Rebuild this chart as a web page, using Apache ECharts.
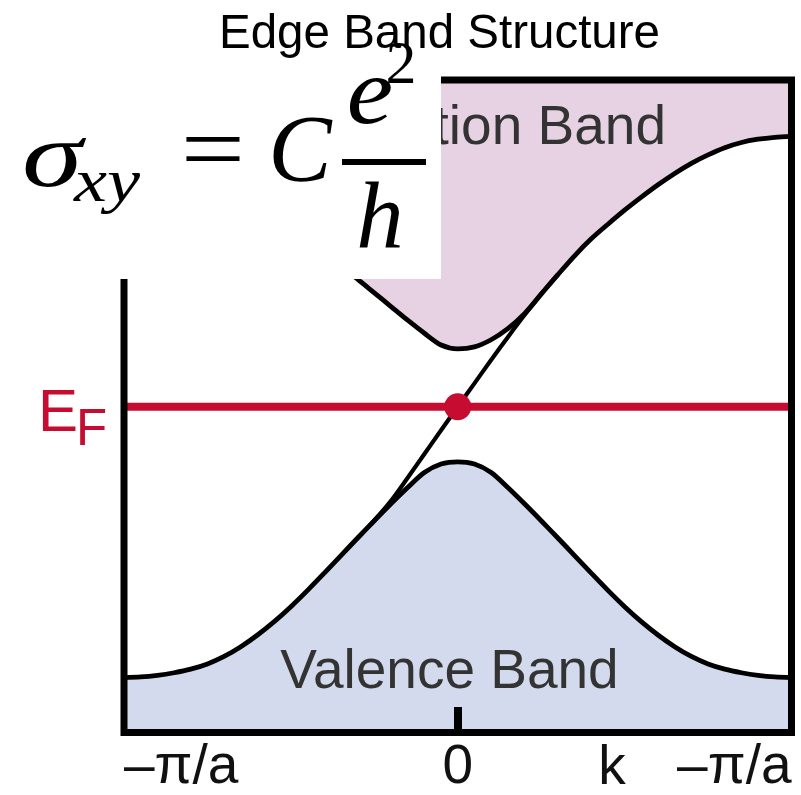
<!DOCTYPE html>
<html>
<head>
<meta charset="utf-8">
<script src="https://cdn.jsdelivr.net/npm/echarts@6/dist/echarts.min.js"></script>
<style>
  html, body { margin: 0; padding: 0; background: #ffffff; }
  #chart { width: 801px; height: 795px; }
</style>
</head>
<body>
<div id="chart"></div>
<script>
// Crystal momentum k in units of pi/a
const kValues = [
  -1, -0.95, -0.9, -0.85, -0.8, -0.75, -0.7, -0.65, -0.6, -0.55, -0.5,
  -0.45, -0.4, -0.35, -0.3, -0.25, -0.2, -0.15, -0.1, -0.05, 0,
  0.05, 0.1, 0.15, 0.2, 0.25, 0.3, 0.35, 0.4, 0.45, 0.5,
  0.55, 0.6, 0.65, 0.7, 0.75, 0.8, 0.85, 0.9, 0.95, 1
];
// Bottom edge of the bulk conduction band
const conductionBand = [
  4.135, 4.125, 4.10, 4.05, 3.97, 3.86, 3.72, 3.55, 3.35, 3.13, 2.90,
  2.65, 2.40, 2.16, 1.94, 1.73, 1.52, 1.31, 1.11, 0.93, 0.87,
  0.90, 1.01, 1.18, 1.41, 1.71, 2.01, 2.30, 2.56, 2.785, 3.00,
  3.20, 3.39, 3.565, 3.72, 3.85, 3.96, 4.04, 4.09, 4.12, 4.135
];
// Top edge of the bulk valence band
const valenceBand = [
  -4.18, -4.17, -4.145, -4.105, -4.05, -3.97, -3.855, -3.705, -3.525, -3.32, -3.09,
  -2.84, -2.575, -2.305, -2.035, -1.77, -1.51, -1.26, -1.03, -0.90, -0.865,
  -0.90, -1.03, -1.26, -1.51, -1.77, -2.035, -2.305, -2.575, -2.84, -3.09,
  -3.32, -3.525, -3.705, -3.855, -3.97, -4.05, -4.105, -4.145, -4.17, -4.18
];
// Chiral edge state crossing the gap
const edgeK = [-0.3, -0.25, -0.2, -0.15, -0.1, -0.05, 0, 0.05, 0.1, 0.15, 0.2, 0.25, 0.3];
const edgeState = [-2.035, -1.765, -1.465, -1.11, -0.745, -0.38, -0.02, 0.34, 0.70, 1.05, 1.39, 1.715, 2.01];
// Fermi level
const fermiLevel = -0.02;
const kRange = [-1, 1];
const tickLabels = { '-1': '–π/a', '0': '0', '1': '–π/a' };

const toPairs = (xs, ys) => xs.map((x, i) => [x, ys[i]]);

const RED = '#C60C30';
const SANS = '"Liberation Sans", Arial, sans-serif';
const SERIF = '"Liberation Serif", "Times New Roman", serif';

const chart = echarts.init(document.getElementById('chart'), null, { renderer: 'canvas' });

chart.setOption({
  animation: false,
  backgroundColor: '#ffffff',
  title: {
    text: 'Edge Band Structure',
    left: 219,
    top: 11,
    padding: 0,
    textStyle: { fontFamily: SANS, fontSize: 47.5, fontWeight: 'normal', color: '#000' }
  },
  grid: { left: 124, right: 9.5, top: 80, bottom: 62.5, show: false },
  xAxis: {
    type: 'value',
    min: kRange[0],
    max: kRange[1],
    interval: 1,
    z: 5,
    axisLine: { show: false, onZero: false },
    splitLine: { show: false },
    axisTick: {
      show: true,
      inside: true,
      length: 24,
      customValues: [0],
      lineStyle: { color: '#000', width: 8 }
    },
    axisLabel: {
      margin: 9,
      fontFamily: SANS,
      fontSize: 55,
      color: '#111',
      alignMinLabel: 'left',
      alignMaxLabel: 'right',
      formatter: (v) => tickLabels[String(v)] || ''
    }
  },
  yAxis: {
    type: 'value',
    min: -5,
    max: 5,
    show: false
  },
  series: [
    {
      name: 'Conduction Band',
      type: 'line',
      data: toPairs(kValues, conductionBand),
      showSymbol: false,
      smooth: 0.3,
      lineStyle: { color: '#000', width: 4.8 },
      areaStyle: { color: '#E7D2E3', opacity: 1, origin: 'end' },
      z: 2
    },
    {
      name: 'Valence Band',
      type: 'line',
      data: toPairs(kValues, valenceBand),
      showSymbol: false,
      smooth: 0.3,
      lineStyle: { color: '#000', width: 4.8 },
      areaStyle: { color: '#D4DAED', opacity: 1, origin: 'start' },
      z: 2
    },
    {
      name: 'Edge State',
      type: 'line',
      data: toPairs(edgeK, edgeState),
      showSymbol: false,
      smooth: 0.3,
      lineStyle: { color: '#000', width: 4.2 },
      z: 3
    },
    {
      name: 'Fermi Level',
      type: 'line',
      data: toPairs(kRange, [fermiLevel, fermiLevel]),
      showSymbol: false,
      lineStyle: { color: RED, width: 8 },
      z: 4
    },
    {
      name: 'Crossing',
      type: 'scatter',
      data: [[0, fermiLevel]],
      symbolSize: 27,
      itemStyle: { color: RED, opacity: 1 },
      z: 4
    }
  ],
  graphic: [
    // plot frame
    {
      type: 'rect', z: 10, silent: true,
      shape: { x: 124, y: 80, width: 667.5, height: 652.5 },
      style: { fill: 'none', stroke: '#000', lineWidth: 7 }
    },
    // band names
    {
      type: 'text', z: 8, silent: true, x: 455, y: 129,
      style: { text: 'Conduction Band', font: '55px ' + SANS, fill: '#333', align: 'center', verticalAlign: 'middle' }
    },
    {
      type: 'text', z: 8, silent: true, x: 449.5, y: 672.6,
      style: { text: 'Valence Band', font: '55px ' + SANS, fill: '#333', align: 'center', verticalAlign: 'middle' }
    },
    // axis name
    {
      type: 'text', z: 8, silent: true, x: 612, y: 769,
      style: { text: 'k', font: '55px ' + SANS, fill: '#111', align: 'center', verticalAlign: 'middle' }
    },
    // Fermi level label
    {
      type: 'text', z: 8, silent: true, x: 38, y: 414,
      style: { text: 'E', font: '60px ' + SANS, fill: RED, align: 'left', verticalAlign: 'middle' }
    },
    {
      type: 'text', z: 8, silent: true, x: 76, y: 430.5,
      style: { text: 'F', font: '51px ' + SANS, fill: RED, align: 'left', verticalAlign: 'middle' }
    },
    // Hall conductance formula panel
    {
      type: 'rect', z: 20, silent: true,
      shape: { x: 0, y: 60, width: 441, height: 219 },
      style: { fill: '#ffffff' }
    },
    {
      type: 'group', z: 21, silent: true,
      children: [
        { type: 'text', z: 21, x: 22, y: 161, scaleX: 1.3, style: { text: 'σ', font: 'italic 94px ' + SERIF, fill: '#000', align: 'left', verticalAlign: 'middle' } },
        { type: 'text', z: 21, x: 74, y: 185, scaleX: 1.2, style: { text: 'xy', font: 'italic 62px ' + SERIF, fill: '#000', align: 'left', verticalAlign: 'middle' } },
        { type: 'text', z: 21, x: 213, y: 156, scaleX: 1.2, style: { text: '=', font: '95px ' + SERIF, fill: '#000', align: 'center', verticalAlign: 'middle' } },
        { type: 'text', z: 21, x: 300, y: 156, style: { text: 'C', font: 'italic 95px ' + SERIF, fill: '#000', align: 'center', verticalAlign: 'middle' } },
        { type: 'rect', z: 21, shape: { x: 342, y: 159, width: 84, height: 6 }, style: { fill: '#000' } },
        { type: 'text', z: 21, x: 370, y: 98, scaleX: 1.1, style: { text: 'e', font: 'italic 95px ' + SERIF, fill: '#000', align: 'center', verticalAlign: 'middle' } },
        { type: 'text', z: 21, x: 401, y: 67, style: { text: '2', font: '62px ' + SERIF, fill: '#000', align: 'center', verticalAlign: 'middle' } },
        { type: 'text', z: 21, x: 380, y: 223, style: { text: 'h', font: 'italic 95px ' + SERIF, fill: '#000', align: 'center', verticalAlign: 'middle' } }
      ]
    }
  ]
});
</script>
</body>
</html>
